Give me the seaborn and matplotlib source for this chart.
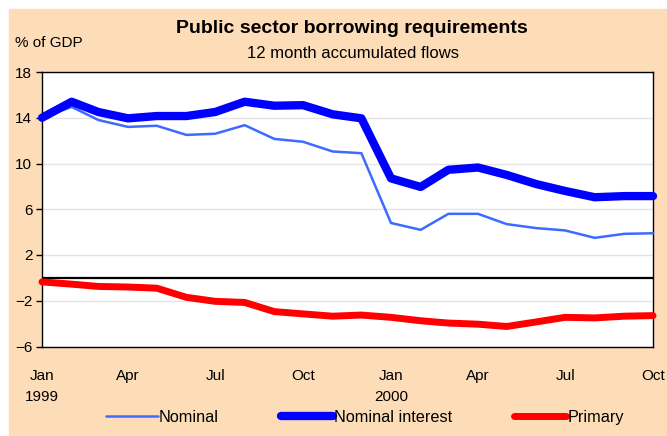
import pandas as pd
import matplotlib.pyplot as plt
from matplotlib.patches import Rectangle
import seaborn as sns

# === DATA (% of GDP, 12 month accumulated) ===
months = [
    "1999-01", "1999-02", "1999-03", "1999-04", "1999-05", "1999-06",
    "1999-07", "1999-08", "1999-09", "1999-10", "1999-11", "1999-12",
    "2000-01", "2000-02", "2000-03", "2000-04", "2000-05", "2000-06",
    "2000-07", "2000-08", "2000-09", "2000-10",
]
nominal = [14.0, 14.95, 13.8, 13.2, 13.3, 12.5, 12.6, 13.35, 12.15, 11.9, 11.05,
           10.9, 4.8, 4.2, 5.6, 5.6, 4.7, 4.35, 4.15, 3.5, 3.85, 3.9]
nominal_interest = [14.0, 15.4, 14.5, 13.95, 14.15, 14.15, 14.5, 15.4, 15.05, 15.1,
                    14.3, 13.95, 8.7, 7.95, 9.45, 9.65, 9.0, 8.2, 7.6, 7.05, 7.15, 7.15]
primary = [-0.35, -0.55, -0.75, -0.8, -0.9, -1.7, -2.05, -2.15, -2.95, -3.15, -3.35,
           -3.25, -3.45, -3.75, -3.95, -4.05, -4.25, -3.85, -3.45, -3.5, -3.35, -3.3]

tick_months = ["1999-01", "1999-04", "1999-07", "1999-10",
               "2000-01", "2000-04", "2000-07", "2000-10"]
tick_labels = ["Jan\n1999", "Apr", "Jul", "Oct", "Jan\n2000", "Apr", "Jul", "Oct"]
y_ticks = [-6, -2, 2, 6, 10, 14, 18]

df = pd.DataFrame({
    "date": pd.to_datetime(months),
    "Nominal": nominal,
    "Nominal interest": nominal_interest,
    "Primary": primary,
})

# === STIL ===
sns.set_style("white")
plt.rcParams["font.family"] = ["Liberation Sans", "DejaVu Sans"]
plt.rcParams.update({"text.color": "black", "axes.labelcolor": "black",
                     "xtick.color": "black", "ytick.color": "black"})

PEACH = "#FDDCB8"
series = [
    ("Nominal", "#3D6BFF", 1.8),
    ("Nominal interest", "#0000FF", 6.0),
    ("Primary", "#FF0000", 5.0),
]

fig = plt.figure(figsize=(6.67, 4.36), dpi=100, facecolor="white")
fig.patches.append(Rectangle((9 / 667, 0), 1 - 9 / 667, 1 - 9 / 436,
                             transform=fig.transFigure, color=PEACH, zorder=-10))
ax = fig.add_axes([42 / 667, 1 - 346.5 / 436, 611 / 667, 274.5 / 436])
ax.set_facecolor("white")

for name, color, lw in series:
    sns.lineplot(data=df, x="date", y=name, ax=ax, color=color, linewidth=lw,
                 label=name, solid_capstyle="round", solid_joinstyle="round",
                 clip_on=False, zorder=3)

ax.axhline(0, color="black", lw=1.6, zorder=2)

ax.set_ylim(-6, 18)
ax.set_yticks(y_ticks)
ax.set_xlim(pd.Timestamp(months[0]), pd.Timestamp(months[-1]))
ax.set_xticks(pd.to_datetime(tick_months))
ax.set_xticklabels(tick_labels, linespacing=1.65)
ax.tick_params(axis="y", direction="out", length=4, width=1,
               labelsize=11, pad=3, left=True)
ax.tick_params(axis="x", length=0, labelsize=11, pad=16)
ax.grid(axis="y", color="#E4E4E4", lw=1)
ax.set_axisbelow(True)
ax.set_xlabel("")
ax.set_ylabel("")
for sp in ax.spines.values():
    sp.set_color("black")
    sp.set_linewidth(1)
    sp.set_visible(True)

fig.text(352 / 667, 1 - 28 / 436, "Public sector borrowing requirements",
         ha="center", va="center", fontsize=14, fontweight="bold")
fig.text(353 / 667, 1 - 54 / 436, "12 month accumulated flows",
         ha="center", va="center", fontsize=12)
fig.text(15 / 667, 1 - 43 / 436, "% of GDP", ha="left", va="center", fontsize=11)

leg = ax.legend(loc="center", bbox_to_anchor=(365 / 667, 1 - 417 / 436),
                bbox_transform=fig.transFigure, ncol=3, frameon=False,
                fontsize=11.7, handlelength=3.2, handletextpad=0.1,
                columnspacing=3.8)

plt.savefig("out.png", dpi=100, facecolor=fig.get_facecolor())
